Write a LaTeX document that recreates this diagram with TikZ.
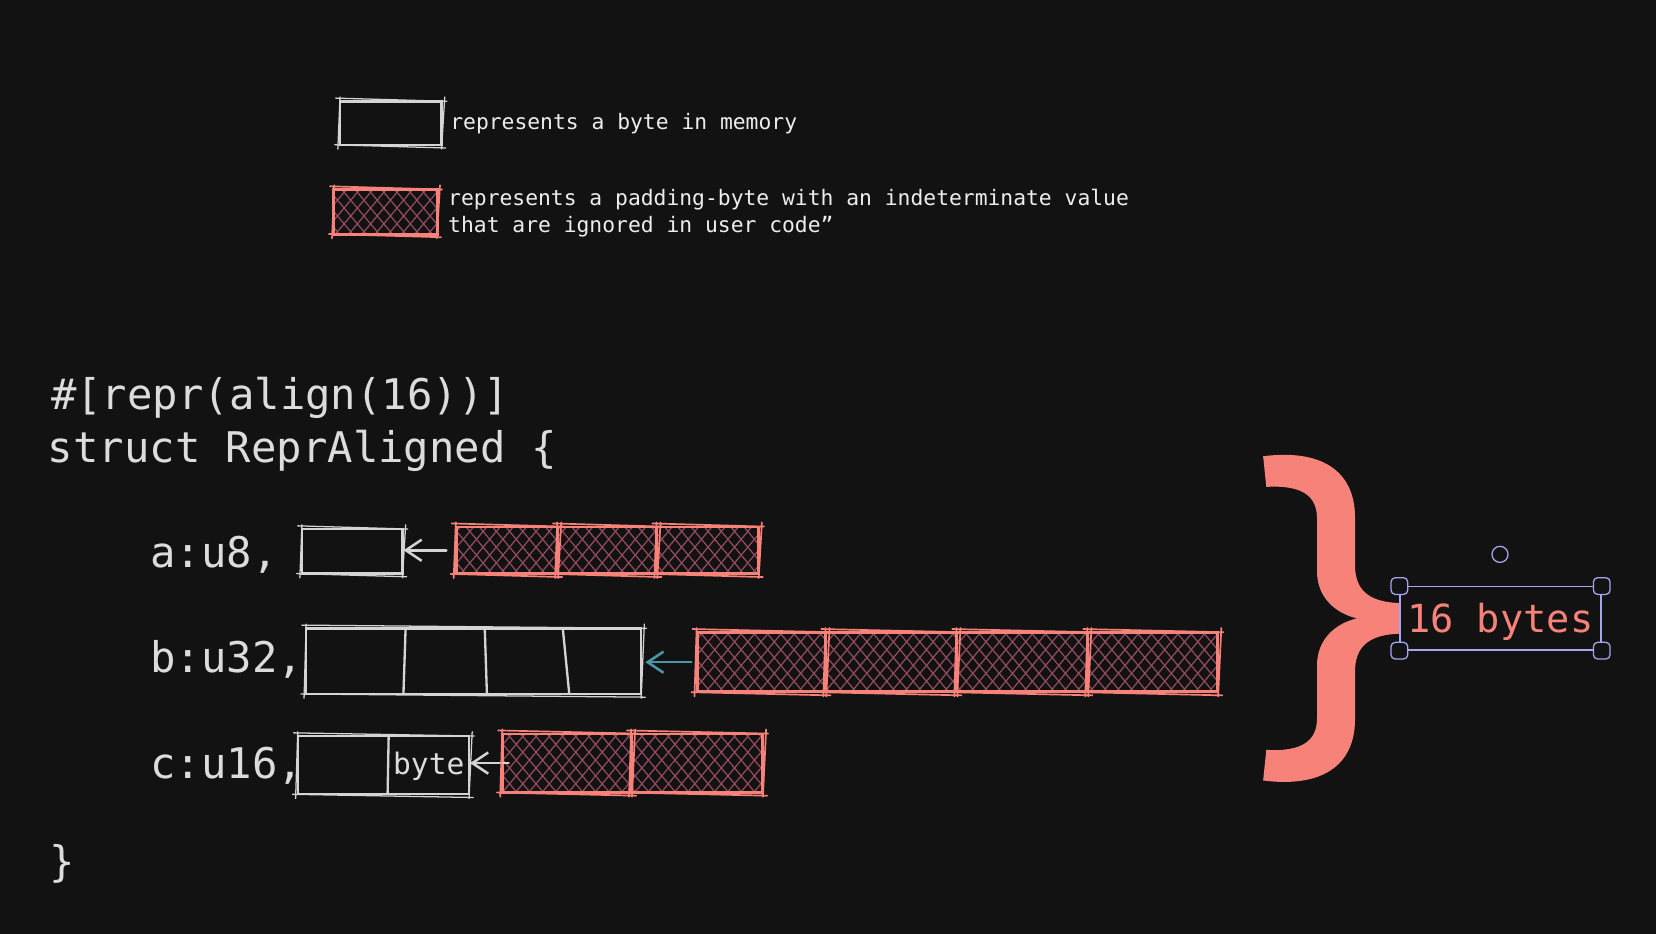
\documentclass[tikz,border=0pt]{standalone}
\usepackage{fontspec}
\setmonofont{DejaVu Sans Mono}
\usetikzlibrary{arrows.meta,patterns.meta,calc}
\definecolor{bg}{HTML}{121212}
\definecolor{txt}{HTML}{DCDCDC}
\definecolor{legtxt}{HTML}{EDEDED}
\definecolor{wht}{HTML}{D4D4D4}
\definecolor{salmon}{HTML}{F7827A}
\definecolor{hatch}{HTML}{934A5E}
\definecolor{tealc}{HTML}{4B97A8}
\definecolor{sel}{HTML}{A4A6F2}
\newcommand\skt[3]{%
  \draw[#2, line width=#3, line cap=round]
    ([shift={(-3,-2)}]#1.north west) -- ([shift={(4,1)}]#1.north east)
    ([shift={(2,-3)}]#1.north east) -- ([shift={(-1,3)}]#1.south east)
    ([shift={(3,2)}]#1.south east) -- ([shift={(-4,-1)}]#1.south west)
    ([shift={(-1,3)}]#1.south west) -- ([shift={(1,-3)}]#1.north west);}
\begin{document}
\begin{tikzpicture}[x=0.5pt,y=-0.5pt,
  bytebox/.style={draw=wht, line width=1.1pt, rectangle, inner sep=0pt},
  padbox/.style={draw=salmon, line width=1.4pt, rectangle, inner sep=0pt,
    preaction={pattern={Lines[angle=-50,distance=4.8pt,line width=0.6pt]}, pattern color=hatch},
    pattern={Lines[angle=50,distance=4.8pt,line width=0.6pt]}, pattern color=hatch},
  code/.style={text=txt, font=\ttfamily\fontsize{20}{24}\selectfont, anchor=base west, inner sep=0pt},
  leg/.style={text=legtxt, font=\ttfamily\fontsize{10.1}{12}\selectfont, anchor=base west, inner sep=0pt},
  arr/.style={line width=1.2pt, line cap=round, -{Straight Barb[length=7.5pt,width=10pt]}},
  handle/.style={draw=sel, fill=bg, line width=0.6pt, rounded corners=2pt, minimum size=7.9pt, inner sep=0pt}]
\useasboundingbox (0,0) rectangle (1568,884);
\fill[bg] (0,0) rectangle (1568,884);

% legend
\node[bytebox, minimum width=48pt, minimum height=20.5pt] (lb) at (370,116.5) {};
\node[leg] (lbt) at (426,123) {represents a byte in memory};
\node[padbox, minimum width=49pt, minimum height=21.5pt] (lp) at (365,200.5) {};
\node[leg] (lpt1) at (424,195) {represents a padding-byte with an indeterminate value};
\node[leg] (lpt2) at (424,220) {that are ignored in user code”};

% code
\node[code] (c1) at (48,388) {\#[repr(align(16))]};
\node[code] (c2) at (45,438) {struct ReprAligned \{};
\node[code] (fa) at (142,537) {a:u8,};
\node[code] (fb) at (142,637) {b:u32,};
\node[code] (fc) at (142,737) {c:u16,};
\node[code] (c3) at (46,830) {\}};

% row a
\node[bytebox, minimum width=47.5pt, minimum height=21pt] (wa) at (333.5,522) {};
\node[padbox, minimum width=48pt, minimum height=22pt] (pa1) at (480,521) {};
\node[padbox, minimum width=47pt, minimum height=22pt] (pa2) at (575,521) {};
\node[padbox, minimum width=48pt, minimum height=22pt] (pa3) at (670,521) {};
\draw[arr, wht, shorten <=4pt] (pa1.west) -- (pa1.west -| wa.east);

% row b
\node[bytebox, minimum width=158.5pt, minimum height=31pt] (wb) at (448.5,626) {};
\draw[wht, line width=1.1pt] (384,596) -- (382,657) (459,595) -- (461,656) (533,596) -- (539,657);
\node[padbox, minimum width=61pt, minimum height=28pt] (pb1) at (721,627) {};
\node[padbox, minimum width=62pt, minimum height=28pt] (pb2) at (844,627) {};
\node[padbox, minimum width=62pt, minimum height=28pt] (pb3) at (968,627) {};
\node[padbox, minimum width=61.5pt, minimum height=28pt] (pb4) at (1091.5,627) {};
\draw[arr, tealc, shorten <=2pt, shorten >=1.5pt] (pb1.west) -- (pb1.west -| wb.east);

% row c
\node[bytebox, minimum width=81pt, minimum height=27.5pt] (wc) at (363,724.5) {};
\draw[wht, line width=1.1pt] (368,697) -- (367,752);
\node[text=txt, font=\ttfamily\fontsize{14}{16}\selectfont, anchor=base, inner sep=0pt] (byte) at (406,733) {byte};
\node[padbox, minimum width=61pt, minimum height=27.5pt] (pc1) at (537,722.5) {};
\node[padbox, minimum width=62pt, minimum height=27.5pt] (pc2) at (660,722.5) {};
\draw[arr, wht, shorten <=-3.5pt] (pc1.west) -- (pc1.west -| wc.east);

% sketchy second strokes
\foreach \n in {lb,wa,wb,wc} {\skt{\n}{wht}{0.6pt}}
\foreach \n in {lp,pa1,pa2,pa3,pb1,pb2,pb3,pb4,pc1,pc2} {\skt{\n}{salmon}{0.8pt}}

% big brace
\fill[salmon] (1196,432)
  .. controls (1250,425) and (1283,445) .. (1283,490)
  -- (1283,535)
  .. controls (1283,562) and (1300,570) .. (1325,571)
  -- (1325,600)
  .. controls (1300,601) and (1283,609) .. (1283,636)
  -- (1283,681)
  .. controls (1283,726) and (1250,746) .. (1196,739)
  -- (1199,710)
  .. controls (1235,712) and (1247,700) .. (1247,680)
  -- (1247,630)
  .. controls (1247,605) and (1265,590) .. (1285,585.5)
  .. controls (1265,581) and (1247,566) .. (1247,541)
  -- (1247,491)
  .. controls (1247,471) and (1235,459) .. (1199,461)
  -- cycle;

% selected label
\node[draw=sel, line width=0.6pt, minimum width=95.2pt, minimum height=30pt, inner sep=0pt] (selb) at (1420.8,585.5) {};
\node[text=salmon, font=\ttfamily\fontsize{18.3}{20}\selectfont, anchor=base, inner sep=0pt] (lbl) at (1420.5,599) {16 bytes};
\foreach \a/\m in {north west/h1, north east/h2, south west/h3, south east/h4} {\node[handle] (\m) at (selb.\a) {};}
\node[draw=sel, circle, line width=0.6pt, minimum size=7.6pt, inner sep=0pt] (rot) at (1420.3,524.9) {};
\end{tikzpicture}
\end{document}
